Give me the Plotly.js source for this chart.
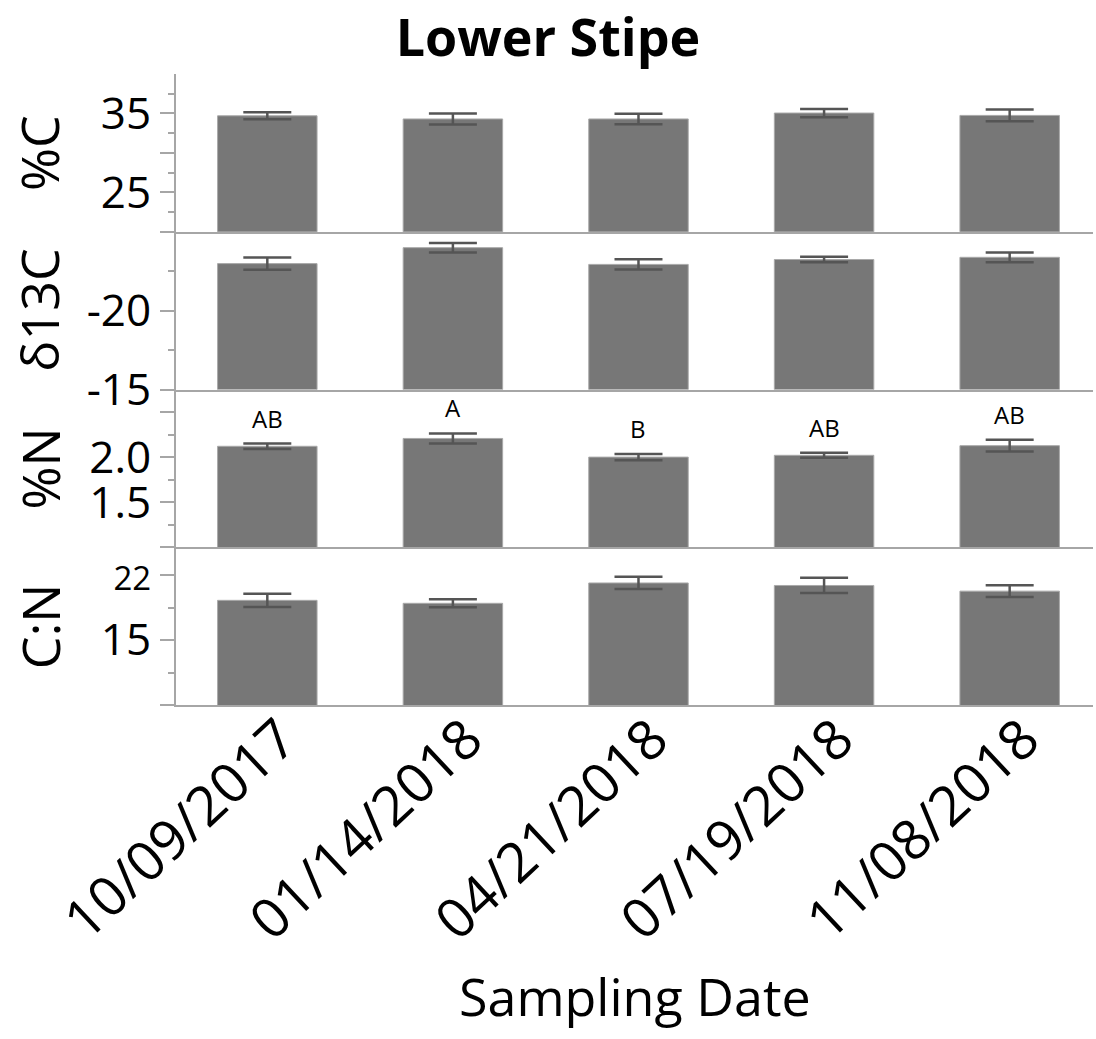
<!DOCTYPE html>
<html>
<head>
<meta charset="utf-8">
<script src="https://cdn.plot.ly/plotly-3.0.1.min.js"></script>
<style>html,body{margin:0;padding:0;background:#fff;}#chart{width:1096px;height:1039px;}</style>
</head>
<body>
<div id="chart"></div>
<script>
// ---- data ----
const dates = ['10/09/2017', '01/14/2018', '04/21/2018', '07/19/2018', '11/08/2018'];
const pctC = [34.7, 34.3, 34.3, 35.05, 34.75];
const pctCErr = [0.45, 0.7, 0.67, 0.52, 0.75];
const d13C = [-22.98, -23.99, -22.93, -23.24, -23.38];
const d13CErr = [0.39, 0.30, 0.32, 0.18, 0.31];
const pctN = [2.12, 2.207, 2.00, 2.02, 2.127];
const pctNErr = [0.03, 0.056, 0.034, 0.028, 0.065];
const cn = [19.28, 18.96, 21.15, 20.88, 20.27];
const cnErr = [0.71, 0.43, 0.66, 0.82, 0.64];
const nLetters = ['AB', 'A', 'B', 'AB', 'AB'];

const panelTitles = ['%C', 'δ13C', '%N', 'C:N'];
const cTicks = [20, 25, 30, 35];
const cTickText = ['', '25', '', '35'];
const cMinor = [22.5, 27.5, 32.5, 37.5];
const dTicks = [-25, -20, -15];
const dTickText = ['', '-20', '-15'];
const dMinor = [-22.5, -17.5];
const nTicks = [1.0, 1.5, 2.0, 2.5];
const nTickText = ['', '1.5', '2.0', ''];
const nMinor = [1.25, 1.75, 2.25];
const cnTicks = [8, 15, 22];
const cnTickText = ['', '15', '<span style="font-size:33px">22</span>'];
const cnMinor = [11.5, 18.5];

// ---- styles ----
const FONT = 'Open Sans, Noto Sans, DejaVu Sans, sans-serif';
const BAR = '#777777';
const BAR_LINE = '#a9a9a9';
const ERR = '#555555';
const AXIS = '#a6a6a6';

function barTrace(vals, errs, i) {
  return {
    type: 'bar', x: dates, y: vals,
    xaxis: 'x' + (i === 1 ? '' : i), yaxis: 'y' + (i === 1 ? '' : i),
    marker: { color: BAR, line: { color: BAR_LINE, width: 1 } },
    error_y: { type: 'data', array: errs, visible: true, color: ERR, thickness: 2.5, width: 24 },
    hoverinfo: 'x+y', showlegend: false
  };
}

const data = [
  barTrace(pctC, pctCErr, 1),
  barTrace(d13C, d13CErr, 2),
  barTrace(pctN, pctNErr, 3),
  barTrace(cn, cnErr, 4)
];

function yAxis(domain, range, tickvals, ticktext, minorvals) {
  return {
    domain: domain, range: range, autorange: false,
    showline: true, linecolor: AXIS, linewidth: 2,
    showgrid: false, zeroline: false,
    tickmode: 'array', tickvals: tickvals, ticktext: ticktext,
    ticks: 'outside', ticklen: 14, tickwidth: 2, tickcolor: AXIS,
    minor: { tickmode: 'array', tickvals: minorvals, ticks: 'outside', ticklen: 6, tickwidth: 2, tickcolor: AXIS, showgrid: false },
    tickfont: { family: FONT, size: 44, color: '#000' },
    fixedrange: true
  };
}

function xAxis(anchor, showLabels) {
  return {
    type: 'category', anchor: anchor, matches: anchor === 'y4' ? undefined : 'x4',
    range: [-0.492, 4.449], autorange: false,
    showline: true, linecolor: AXIS, linewidth: 2,
    showgrid: false, zeroline: false, ticks: '',
    showticklabels: showLabels, tickangle: -43,
    ticklabelstandoff: -22, ticklabelshift: 14,
    tickfont: { family: FONT, size: 55, color: '#000' },
    fixedrange: true
  };
}

const annotations = [];
const yrefs = ['y', 'y2', 'y3', 'y4'];
panelTitles.forEach(function (t, k) {
  annotations.push({
    text: t, xref: 'paper', x: -0.1494, xanchor: 'center',
    yref: yrefs[k] + ' domain', y: 0.5, yanchor: 'middle',
    textangle: -90, showarrow: false,
    font: { family: FONT, size: 52, color: '#000' }
  });
});
nLetters.forEach(function (l, k) {
  annotations.push({
    text: l, xref: 'x3', x: dates[k], yref: 'y3', y: pctN[k] + pctNErr[k],
    yanchor: 'bottom', yshift: 7, showarrow: false,
    font: { family: FONT, size: 24, color: '#000' }
  });
});
annotations.push({
  text: 'Sampling Date', xref: 'paper', x: 0.5, xanchor: 'center',
  yref: 'paper', y: -0.4596, yanchor: 'middle', showarrow: false,
  font: { family: FONT, size: 52, color: '#000' }
});

const layout = {
  width: 1096, height: 1039,
  margin: { l: 176, r: 3, t: 74, b: 334, pad: 0 },
  paper_bgcolor: '#fff', plot_bgcolor: '#fff',
  bargap: 0.464,
  title: { text: '<b>Lower Stipe</b>', x: 0.5, xref: 'container', xanchor: 'center', y: 0.9634, yref: 'container', yanchor: 'middle',
    font: { family: FONT, size: 52, color: '#000' } },
  xaxis: xAxis('y', false),
  xaxis2: xAxis('y2', false),
  xaxis3: xAxis('y3', false),
  xaxis4: xAxis('y4', true),
  yaxis: yAxis([0.75, 1], [20, 40], cTicks, cTickText, cMinor),
  yaxis2: yAxis([0.5, 0.75], [-15, -25], dTicks, dTickText, dMinor),
  yaxis3: yAxis([0.25, 0.5], [1.0, 2.75], nTicks, nTickText, nMinor),
  yaxis4: yAxis([0, 0.25], [8, 25], cnTicks, cnTickText, cnMinor),
  annotations: annotations,
  showlegend: false
};

Plotly.newPlot('chart', data, layout, { displayModeBar: false, staticPlot: true });
</script>
</body>
</html>
